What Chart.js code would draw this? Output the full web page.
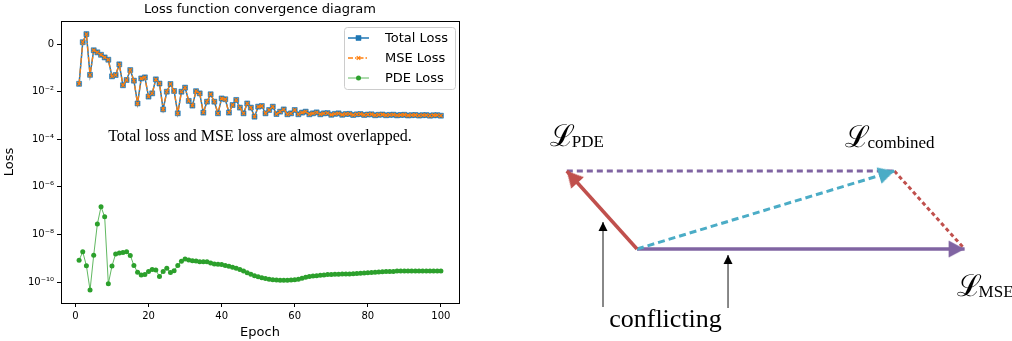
<!DOCTYPE html>
<html><head><meta charset="utf-8">
<script src="https://cdn.jsdelivr.net/npm/chart.js@4.4.0/dist/chart.umd.min.js"></script>
<style>
html,body{margin:0;padding:0;background:#fff;width:1012px;height:341px;overflow:hidden;}
#left{position:absolute;left:0;top:0;width:470px;height:341px;}
#right{position:absolute;left:530px;top:90px;width:482px;height:251px;}
</style></head><body>
<div id="left"><canvas id="c1"></canvas></div>
<div id="right"><canvas id="c2"></canvas></div>
<script>
// ---------- data (left chart) ----------
const chartTitle = 'Loss function convergence diagram';
const noteText = 'Total loss and MSE loss are almost overlapped.';
const epochs = Array.from({length: 100}, (_, i) => i + 1);
const xTicks = [0, 20, 40, 60, 80, 100];
const yTickValues = [1, 1e-2, 1e-4, 1e-6, 1e-8, 1e-10];
const yTickLabels = ['0', '10\u207B\u00B2', '10\u207B\u2074', '10\u207B\u2076', '10\u207B\u2078', '10\u207B\u00B9\u2070'];
const seriesNames = ['Total Loss', 'MSE Loss', 'PDE Loss'];

const totalLoss = [2.14e-2, 1.2, 2.63, 5.1e-2, 0.55, 0.45, 0.355, 0.275, 0.22, 4.4e-2,
  5.0e-2, 0.141, 1.86e-2, 3.1e-2, 8.1e-2, 2.9e-2, 3.2e-3, 3.6e-2, 4.0e-2, 6.2e-3,
  8.5e-3, 3.3e-2, 2.2e-2, 1.8e-3, 1.0e-2, 2.1e-2, 1.07e-2, 1.23e-3, 1.0e-2, 1.48e-2,
  4.1e-3, 2.6e-3, 1.05e-2, 8.5e-3, 1.32e-3, 3.8e-3, 7.8e-3, 3.8e-3, 1.23e-3, 5.2e-3,
  4.8e-3, 1.32e-3, 2.75e-3, 4.5e-3, 2.14e-3, 1.23e-3, 3.2e-3, 2.14e-3, 8.9e-4, 2.35e-3,
  2.5e-3, 1.23e-3, 1.7e-3, 2.35e-3, 1.15e-3, 1.45e-3, 1.8e-3, 1.12e-3, 1.23e-3, 1.7e-3,
  1.12e-3, 1.32e-3, 1.45e-3, 1.12e-3, 1.23e-3, 1.35e-3, 1.12e-3, 1.23e-3, 1.26e-3, 1.07e-3,
  1.17e-3, 1.23e-3, 1.07e-3, 1.15e-3, 1.17e-3, 1.05e-3, 1.12e-3, 1.15e-3, 1.05e-3, 1.10e-3,
  1.12e-3, 1.02e-3, 1.07e-3, 1.10e-3, 1.02e-3, 1.06e-3, 1.08e-3, 1.01e-3, 1.05e-3, 1.07e-3,
  1.0e-3, 1.03e-3, 1.05e-3, 0.99e-3, 1.03e-3, 1.04e-3, 0.98e-3, 1.02e-3, 1.03e-3, 0.98e-3];

const mseLoss = [2.14e-2, 1.2, 2.63, 5.1e-2, 0.55, 0.45, 0.355, 0.275, 0.22, 4.4e-2,
  5.0e-2, 0.141, 1.86e-2, 3.1e-2, 8.1e-2, 2.9e-2, 3.2e-3, 3.6e-2, 4.0e-2, 6.2e-3,
  8.5e-3, 3.3e-2, 2.2e-2, 1.8e-3, 1.0e-2, 2.1e-2, 1.07e-2, 1.23e-3, 1.0e-2, 1.48e-2,
  4.1e-3, 2.6e-3, 1.05e-2, 8.5e-3, 1.32e-3, 3.8e-3, 7.8e-3, 3.8e-3, 1.23e-3, 5.2e-3,
  4.8e-3, 1.32e-3, 2.75e-3, 4.5e-3, 2.14e-3, 1.23e-3, 3.2e-3, 2.14e-3, 8.9e-4, 2.35e-3,
  2.5e-3, 1.23e-3, 1.7e-3, 2.35e-3, 1.15e-3, 1.45e-3, 1.8e-3, 1.12e-3, 1.23e-3, 1.7e-3,
  1.12e-3, 1.32e-3, 1.45e-3, 1.12e-3, 1.23e-3, 1.35e-3, 1.12e-3, 1.23e-3, 1.26e-3, 1.07e-3,
  1.17e-3, 1.23e-3, 1.07e-3, 1.15e-3, 1.17e-3, 1.05e-3, 1.12e-3, 1.15e-3, 1.05e-3, 1.10e-3,
  1.12e-3, 1.02e-3, 1.07e-3, 1.10e-3, 1.02e-3, 1.06e-3, 1.08e-3, 1.01e-3, 1.05e-3, 1.07e-3,
  1.0e-3, 1.03e-3, 1.05e-3, 0.99e-3, 1.03e-3, 1.04e-3, 0.98e-3, 1.02e-3, 1.03e-3, 0.98e-3];

const pdeLoss = [8.3e-10, 1.86e-9, 4.9e-10, 4.6e-11, 1.35e-9, 2.75e-8, 1.45e-7, 5.5e-8, 8.5e-11, 4.7e-10,
  1.51e-9, 1.66e-9, 1.74e-9, 1.86e-9, 1.32e-9, 5.0e-10, 2.6e-10, 2.0e-10, 2.1e-10, 2.8e-10,
  3.4e-10, 3.2e-10, 1.7e-10, 2.8e-10, 3.8e-10, 2.5e-10, 3.0e-10, 5.0e-10, 7.4e-10, 9.3e-10,
  8.5e-10, 7.9e-10, 7.6e-10, 7.2e-10, 7.2e-10, 7.1e-10, 6.3e-10, 5.8e-10, 5.6e-10, 5.5e-10,
  5.0e-10, 4.6e-10, 4.2e-10, 3.8e-10, 3.4e-10, 2.9e-10, 2.45e-10, 2.14e-10, 1.86e-10, 1.66e-10,
  1.51e-10, 1.41e-10, 1.32e-10, 1.26e-10, 1.23e-10, 1.2e-10, 1.2e-10, 1.2e-10, 1.23e-10, 1.26e-10,
  1.32e-10, 1.45e-10, 1.58e-10, 1.7e-10, 1.78e-10, 1.86e-10, 1.95e-10, 2.0e-10, 2.1e-10, 2.1e-10,
  2.14e-10, 2.14e-10, 2.2e-10, 2.2e-10, 2.2e-10, 2.24e-10, 2.3e-10, 2.34e-10, 2.4e-10, 2.45e-10,
  2.5e-10, 2.57e-10, 2.63e-10, 2.7e-10, 2.75e-10, 2.8e-10, 2.8e-10, 2.9e-10, 2.9e-10, 2.9e-10,
  2.9e-10, 2.9e-10, 2.9e-10, 2.9e-10, 2.9e-10, 2.9e-10, 2.9e-10, 2.9e-10, 2.9e-10, 2.9e-10];

// ---------- data (right diagram: gradient vectors) ----------
const diagOrigin = [0, 0];
const gradPDE = [-0.9, 1.0];
const gradMSE = [4.2, 0];
const gradCombined = [3.3, 1.0];
const pointerA = [[-0.436, -0.744], [-0.436, 0.346]];
const pointerB = [[1.167, -0.756], [1.167, -0.077]];
const diagLabels = ['PDE', 'combined', 'MSE'];
const pointerText = 'conflicting';

const pts = (ys) => epochs.map((e, i) => ({x: e, y: ys[i]}));
const SANS = "'DejaVu Sans', 'Liberation Sans', sans-serif";
const SERIF = "'Liberation Serif', 'DejaVu Serif', serif";

const frameAndNotes = {
  id: 'frameAndNotes',
  afterDraw(chart) {
    const ctx = chart.ctx, a = chart.chartArea;
    ctx.save();
    ctx.strokeStyle = '#000'; ctx.lineWidth = 1;
    ctx.strokeRect(Math.round(a.left) + 0.5, Math.round(a.top) + 0.5, Math.round(a.width), Math.round(a.height));
    // title
    ctx.fillStyle = '#000'; ctx.font = '13px ' + SANS; ctx.textAlign = 'center'; ctx.textBaseline = 'middle';
    ctx.fillText(chartTitle, (a.left + a.right) / 2, 10);
    // note
    ctx.font = '16px ' + SERIF;
    ctx.fillText(noteText, chart.scales.x.getPixelForValue(50.5), chart.scales.y.getPixelForValue(1.3e-4));
    // legend
    const x0 = a.right - 115, y0 = a.top + 6, w = 111, h = 62;
    ctx.beginPath();
    ctx.roundRect(x0 + 0.5, y0 + 0.5, w, h, 3);
    ctx.fillStyle = 'rgba(255,255,255,0.8)'; ctx.fill();
    ctx.strokeStyle = '#cccccc'; ctx.lineWidth = 1; ctx.stroke();
    chart.data.datasets.forEach((ds, i) => {
      const yy = y0 + 11 + i * 20;
      ctx.save();
      ctx.strokeStyle = ds.borderColor; ctx.lineWidth = ds.borderWidth;
      ctx.setLineDash(ds.borderDash || []);
      ctx.beginPath(); ctx.moveTo(x0 + 4, yy); ctx.lineTo(x0 + 25, yy); ctx.stroke();
      ctx.restore();
      ctx.save();
      ctx.fillStyle = ds.pointBackgroundColor; ctx.strokeStyle = ds.pointBorderColor;
      ctx.lineWidth = ds.pointBorderWidth;
      Chart.helpers.drawPoint(ctx, {pointStyle: ds.pointStyle, radius: ds.pointRadius, rotation: 0, borderWidth: ds.pointBorderWidth}, x0 + 14.5, yy);
      ctx.restore();
      ctx.fillStyle = '#000'; ctx.font = '13px ' + SANS; ctx.textAlign = 'left'; ctx.textBaseline = 'middle';
      ctx.fillText(ds.label, x0 + 41, yy + 1);
    });
    ctx.restore();
  }
};

new Chart(document.getElementById('c1'), {
  type: 'line',
  data: {
    datasets: [
      {label: seriesNames[0], data: pts(totalLoss), borderColor: '#1f77b4', borderWidth: 1.5,
       pointStyle: 'rect', pointRadius: 3.5, pointBackgroundColor: '#1f77b4', pointBorderColor: 'rgba(31,119,180,0.6)', pointBorderWidth: 1, order: 2},
      {label: seriesNames[1], data: pts(mseLoss), borderColor: '#ff7f0e', borderWidth: 1.3, borderDash: [5, 2, 1.5, 2],
       pointStyle: 'crossRot', pointRadius: 2.5, pointBackgroundColor: '#ff7f0e', pointBorderColor: '#ff7f0e', pointBorderWidth: 1.2, order: 1},
      {label: seriesNames[2], data: pts(pdeLoss), borderColor: 'rgba(44,160,44,0.75)', borderWidth: 1,
       pointStyle: 'circle', pointRadius: 2.5, pointBackgroundColor: '#2ca02c', pointBorderColor: '#2ca02c', pointBorderWidth: 0, order: 3}
    ]
  },
  options: {
    animation: false, responsive: true, maintainAspectRatio: false, devicePixelRatio: 1,
    layout: {padding: {left: 0, right: 11, top: 21, bottom: 0}, autoPadding: false},
    plugins: {legend: {display: false}, tooltip: {enabled: false}, title: {display: false}},
    elements: {line: {tension: 0}},
    scales: {
      x: {
        type: 'linear', min: -3.95, max: 104.95,
        afterBuildTicks(s) { s.ticks = xTicks.map(v => ({value: v})); },
        ticks: {font: {size: 10, family: SANS}, color: '#000', padding: 3, maxRotation: 0, callback: v => String(v)},
        grid: {drawOnChartArea: false, drawTicks: true, tickLength: 4, tickColor: '#000'},
        border: {display: true, color: '#000'},
        title: {display: true, text: 'Epoch', font: {size: 13, family: SANS}, color: '#000', padding: {top: 0, bottom: 1}},
        afterFit(s) { s.height = 38; }
      },
      y: {
        type: 'logarithmic', min: Math.pow(10, -10.88), max: Math.pow(10, 0.97),
        afterBuildTicks(s) { s.ticks = yTickValues.map(v => ({value: v})); },
        ticks: {font: {size: 10, family: SANS}, color: '#000', padding: 3,
          callback: (v) => { const k = yTickValues.findIndex(t => Math.abs(Math.log10(t) - Math.log10(v)) < 1e-6); return k >= 0 ? yTickLabels[k] : ''; }},
        grid: {drawOnChartArea: false, drawTicks: true, tickLength: 4, tickColor: '#000'},
        border: {display: true, color: '#000'},
        title: {display: true, text: 'Loss', font: {size: 13, family: SANS}, color: '#000', padding: {top: 2, bottom: 2}},
        afterFit(s) { s.width = 61; }
      }
    }
  },
  plugins: [frameAndNotes]
});

// ---------- right diagram ----------
function arrowHead(color, len, half) {
  const c = document.createElement('canvas');
  c.width = 44; c.height = 44;
  const g = c.getContext('2d');
  g.fillStyle = color;
  g.beginPath(); g.moveTo(22, 22); g.lineTo(22 - len, 22 - half); g.lineTo(22 - len, 22 + half); g.closePath(); g.fill();
  return c;
}
const RED = '#c0504d', PURPLE = '#8064a2', CYAN = '#4bacc6', DARK = '#3a3a3a';
const headRed = arrowHead(RED, 16, 8.5), headPurple = arrowHead(PURPLE, 16, 8.5), headCyan = arrowHead(CYAN, 16, 8.5), headBlack = arrowHead('#000', 9, 4.5);

const P = (v) => ({x: v[0], y: v[1]});
function headRotation(from, to) {
  return (ctx) => {
    const sx = ctx.chart.scales.x, sy = ctx.chart.scales.y;
    const dx = sx.getPixelForValue(to[0]) - sx.getPixelForValue(from[0]);
    const dy = sy.getPixelForValue(to[1]) - sy.getPixelForValue(from[1]);
    return Math.atan2(dy, dx) * 180 / Math.PI;
  };
}
function shaft(a, b, color, width, dash) {
  return {data: [P(a), P(b)], showLine: true, borderColor: color, borderWidth: width, borderDash: dash || [], pointRadius: 0, borderCapStyle: 'butt'};
}
function head(a, b, img) {
  return {data: [P(b)], showLine: false, pointStyle: img, pointRadius: 10, rotation: headRotation(a, b)};
}

const diagLabelPlugin = {
  id: 'diagLabels',
  afterDraw(chart) {
    const ctx = chart.ctx, sx = chart.scales.x, sy = chart.scales.y;
    const px = v => [sx.getPixelForValue(v[0]), sy.getPixelForValue(v[1])];
    function lab(x, y, sub) {
      ctx.font = '30px ' + SERIF; ctx.textAlign = 'left'; ctx.textBaseline = 'alphabetic'; ctx.fillStyle = '#000';
      ctx.fillText('\u2112', x, y);
      const w = ctx.measureText('\u2112').width;
      ctx.font = '17px ' + SERIF;
      ctx.fillText(sub, x + w - 3, y + 1);
    }
    ctx.save();
    const tP = px(gradPDE), tC = px(gradCombined), tM = px(gradMSE);
    lab(tP[0] - 17, tP[1] - 25, diagLabels[0]);
    lab(tC[0] - 49, tC[1] - 24, diagLabels[1]);
    lab(tM[0] - 8, tM[1] + 47, diagLabels[2]);
    const a = px(pointerA[0]), b = px(pointerB[0]);
    ctx.font = '26px ' + SERIF; ctx.textAlign = 'center'; ctx.textBaseline = 'alphabetic';
    ctx.fillText(pointerText, (a[0] + b[0]) / 2, a[1] + 20);
    ctx.restore();
  }
};

new Chart(document.getElementById('c2'), {
  type: 'scatter',
  data: {
    datasets: [
      head(diagOrigin, gradPDE, headRed),
      shaft(diagOrigin, gradPDE, RED, 3.5),
      head(diagOrigin, gradCombined, headCyan),
      shaft(diagOrigin, gradCombined, CYAN, 3, [7, 4]),
      head(diagOrigin, gradMSE, headPurple),
      shaft(diagOrigin, gradMSE, PURPLE, 3.5),
      shaft(gradPDE, gradCombined, PURPLE, 3, [6, 4]),
      shaft(gradCombined, gradMSE, RED, 3, [4, 3]),
      head(pointerA[0], pointerA[1], headBlack),
      shaft(pointerA[0], pointerA[1], DARK, 1.2),
      head(pointerB[0], pointerB[1], headBlack),
      shaft(pointerB[0], pointerB[1], DARK, 1.2)
    ]
  },
  options: {
    animation: false, responsive: true, maintainAspectRatio: false, devicePixelRatio: 1,
    layout: {padding: 0, autoPadding: false},
    plugins: {legend: {display: false}, tooltip: {enabled: false}},
    scales: {
      x: {type: 'linear', display: false, min: -1.372, max: 4.808},
      y: {type: 'linear', display: false, min: -1.179, max: 2.038}
    }
  },
  plugins: [diagLabelPlugin]
});
</script>
</body></html>
